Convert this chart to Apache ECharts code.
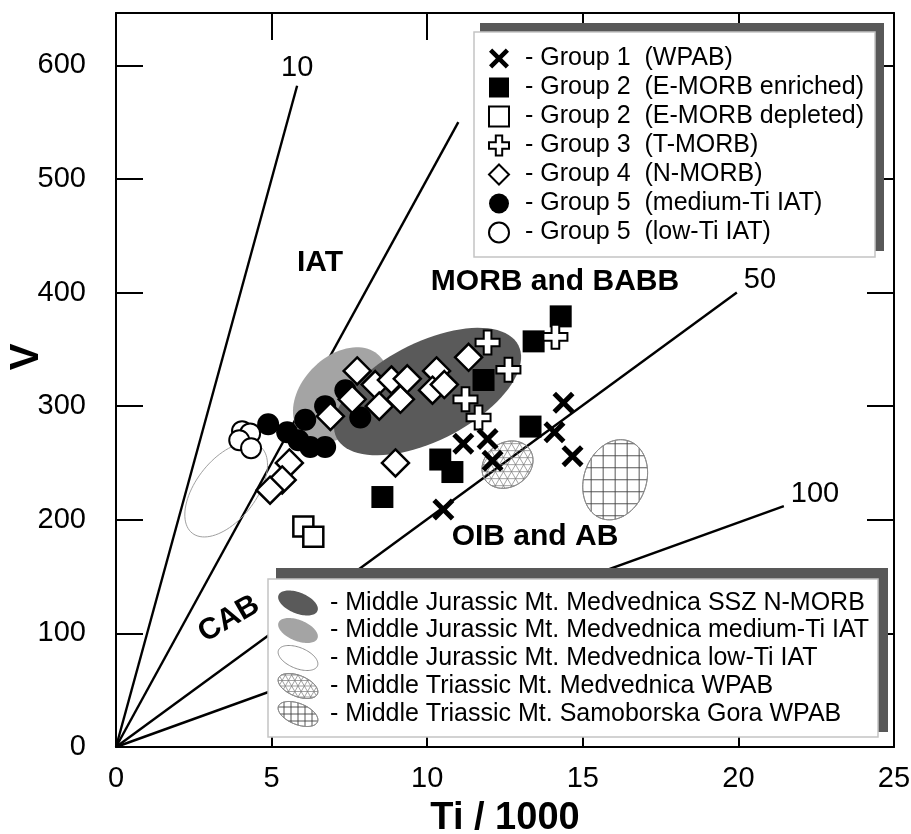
<!DOCTYPE html>
<html><head><meta charset="utf-8">
<script src="https://cdn.jsdelivr.net/npm/echarts@6/dist/echarts.min.js"></script>
<style>html,body{margin:0;padding:0;background:#fff}#c{width:911px;height:834px}</style>
</head><body><div id="c"></div>
<script>
const FONT = '"Liberation Sans", Arial, Helvetica, sans-serif';

// ---------- data (Ti/1000, V) ----------
const group1WPAB = [[11.16,267],[11.94,271],[12.10,252],[10.52,209],[14.38,303],[14.09,277],[14.67,256]];
const group2Enriched = [[14.29,379],[13.42,357],[11.81,323],[13.32,282],[10.42,253],[10.81,242],[8.56,220]];
const group2Depleted = [[6.02,194],[6.34,185]];
const group3TMORB = [[14.12,361],[11.94,356],[12.61,332],[11.23,306],[11.65,290]];
const group4NMORB = [[7.75,331],[7.59,306],[6.89,291],[5.57,250],[5.34,235],[4.95,226],[8.33,319],[8.46,300],
  [8.85,323],[9.14,306],[9.36,324],[10.30,331],[10.17,314],[10.55,319],[11.33,343],[8.98,250]];
const group5MediumTi = [[4.89,284],[5.50,277],[6.08,288],[5.86,270],[6.24,264],[6.72,264],[6.72,300],[7.37,314],[7.85,290]];
const group5LowTi = [[4.05,278],[4.31,276],[3.96,270],[4.34,263]];

const seriesNames = ['- Group 1  (WPAB)','- Group 2  (E-MORB enriched)','- Group 2  (E-MORB depleted)',
  '- Group 3  (T-MORB)','- Group 4  (N-MORB)','- Group 5  (medium-Ti IAT)','- Group 5  (low-Ti IAT)'];

// Ti/V ratio lines: label and end point
const ratioLabels = ['10','20','50','100'];
const ratioLineEnds = [[5.82,582],[11.0,550],[19.95,400],[21.46,212]];

// fields: ellipse centre, end of one semi-axis, end of the other semi-axis (data units)
const fieldNames = ['- Middle Jurassic Mt. Medvednica SSZ N-MORB','- Middle Jurassic Mt. Medvednica medium-Ti IAT',
  '- Middle Jurassic Mt. Medvednica low-Ti IAT','- Middle Triassic Mt. Medvednica WPAB','- Middle Triassic Mt. Samoborska Gora WPAB'];
const fieldCenters = [[10.01,312.8],[7.21,310.1],[3.54,226.4],[12.58,248.5],[16.04,235.2]];
const fieldMajorEnds = [[12.93,353.6],[8.46,344.4],[4.63,264.6],[13.29,262.1],[16.49,269.2]];
const fieldMinorEnds = [[9.29,351.3],[6.34,333.8],[2.78,242.7],[12.17,264.3],[15.10,244.6]];

const xTicks = [0,5,10,15,20,25];
const yTicks = [0,100,200,300,400,500,600];

// ---------- styles ----------
const fieldStyles = [
  {fill:'#5a5a5a', stroke:'none', lw:0},
  {fill:'#a4a4a4', stroke:'none', lw:0},
  {fill:'none', stroke:'#a0a0a0', lw:1},
  {fill:'none', stroke:'#8c8c8c', lw:1, hatch:[0, Math.PI/3, 2*Math.PI/3], hs:7, hc:'#7a7a7a', hw:0.7},
  {fill:'none', stroke:'#8c8c8c', lw:1, hatch:[0, Math.PI/2], hs:12, hc:'#444', hw:0.9}
];

function ellipsePoints(c, A, B, n){
  const pts=[];
  for(let i=0;i<n;i++){const t=2*Math.PI*i/n;
    pts.push([c[0]+A[0]*Math.cos(t)+B[0]*Math.sin(t), c[1]+A[1]*Math.cos(t)+B[1]*Math.sin(t)]);}
  return pts;
}
function hatch(c, A, B, angles, s){
  const det=A[0]*B[1]-B[0]*A[1];
  const inv=v=>[(B[1]*v[0]-B[0]*v[1])/det, (-A[1]*v[0]+A[0]*v[1])/det];
  const R=Math.hypot(A[0],A[1])+Math.hypot(B[0],B[1]);
  const segs=[];
  angles.forEach(ang=>{
    const d=[Math.cos(ang),Math.sin(ang)], nr=[-d[1],d[0]];
    const K=Math.ceil(R/s);
    for(let k=-K;k<=K;k++){
      const off=[nr[0]*k*s,nr[1]*k*s];
      const q0=inv(off), e=inv(d);
      const a=e[0]*e[0]+e[1]*e[1], b=2*(q0[0]*e[0]+q0[1]*e[1]), cc=q0[0]*q0[0]+q0[1]*q0[1]-1;
      const disc=b*b-4*a*cc; if(disc<=0) continue;
      const sq=Math.sqrt(disc), t1=(-b-sq)/(2*a), t2=(-b+sq)/(2*a);
      segs.push([c[0]+off[0]+d[0]*t1,c[1]+off[1]+d[1]*t1,c[0]+off[0]+d[0]*t2,c[1]+off[1]+d[1]*t2]);
    }
  });
  return segs;
}
function fieldElements(c, A, B, st, hs, z){
  const els=[{type:'polygon', z:z, shape:{points:ellipsePoints(c,A,B,90)},
    style:{fill:st.fill, stroke:st.stroke, lineWidth:st.lw}}];
  if(st.hatch){
    hatch(c,A,B,st.hatch,hs||st.hs).forEach(sg=>{
      els.push({type:'line', z:z, shape:{x1:sg[0],y1:sg[1],x2:sg[2],y2:sg[3]}, style:{stroke:st.hc, lineWidth:st.hw}});
    });
    els.push({type:'polygon', z:z, shape:{points:ellipsePoints(c,A,B,90)}, style:{fill:'none', stroke:st.stroke, lineWidth:st.lw}});
  }
  return els;
}

// ---------- series ----------
const series = [];
const lineLabelOffsets = {'10':[-24,-18], '50':[-1,-13], '100':[-1,-12]};
ratioLabels.forEach((lab,i)=>{
  series.push({type:'line', name:'ratio'+lab, data:[[0,0], ratioLineEnds[i]], symbol:'none', z:2,
    lineStyle:{color:'#000', width:2.4}, silent:true,
    endLabel:{show: lab!=='20', formatter: lab, fontSize:29, fontFamily:FONT, color:'#000',
      offset: lineLabelOffsets[lab] || [0,0]}});
});
[2,1,0,3,4].forEach(i=>{
  series.push({type:'custom', name:fieldNames[i], z:3, silent:true,
    dimensions:['cx','cy','mx','my','nx','ny'],
    encode:{x:[0,2,4], y:[1,3,5]},
    data:[[fieldCenters[i][0],fieldCenters[i][1],fieldMajorEnds[i][0],fieldMajorEnds[i][1],fieldMinorEnds[i][0],fieldMinorEnds[i][1]]],
    renderItem:(params, api)=>{
      const c=api.coord([api.value(0),api.value(1)]);
      const m=api.coord([api.value(2),api.value(3)]);
      const n=api.coord([api.value(4),api.value(5)]);
      const A=[m[0]-c[0],m[1]-c[1]], B=[n[0]-c[0],n[1]-c[1]];
      return {type:'group', children: fieldElements(c,A,B,fieldStyles[i])};
    }});
});
const xPath='path://M0,1.6L1.6,0L5,3.4L8.4,0L10,1.6L6.6,5L10,8.4L8.4,10L5,6.6L1.6,10L0,8.4L3.4,5Z';
const plusPath='path://M3.4,0L6.6,0L6.6,3.4L10,3.4L10,6.6L6.6,6.6L6.6,10L3.4,10L3.4,6.6L0,6.6L0,3.4L3.4,3.4Z';
const scatterDefs = [
  {name:seriesNames[6], data:group5LowTi, symbol:'circle', size:20, style:{color:'#fff', borderColor:'#000', borderWidth:2}},
  {name:seriesNames[5], data:group5MediumTi, symbol:'circle', size:22, style:{color:'#000'}},
  {name:seriesNames[4], data:group4NMORB, symbol:'diamond', size:27, style:{color:'#fff', borderColor:'#000', borderWidth:2.5}},
  {name:seriesNames[2], data:group2Depleted, symbol:'rect', size:20, style:{color:'#fff', borderColor:'#000', borderWidth:2.5}},
  {name:seriesNames[1], data:group2Enriched, symbol:'rect', size:22, style:{color:'#000'}},
  {name:seriesNames[3], data:group3TMORB, symbol:plusPath, size:24, style:{color:'#fff', borderColor:'#000', borderWidth:2}},
  {name:seriesNames[0], data:group1WPAB, symbol:xPath, size:22, style:{color:'#000'}}
];
scatterDefs.forEach(d=>{
  series.push({type:'scatter', name:d.name, data:d.data, symbol:d.symbol, symbolSize:d.size, z:4,
    itemStyle:Object.assign({opacity:1}, d.style), emphasis:{disabled:true}, silent:true});
});

// ---------- graphic (boxes, texts, field legend) ----------
const graphics = [];
graphics.push({type:'rect', z:10, shape:{x:480,y:23,width:404,height:228}, style:{fill:'#585858'}});
graphics.push({type:'rect', z:11, shape:{x:474,y:32,width:401,height:225}, style:{fill:'#fff', stroke:'#c4c4c4', lineWidth:1.5}});
graphics.push({type:'rect', z:10, shape:{x:276,y:568,width:612,height:164}, style:{fill:'#585858'}});
graphics.push({type:'rect', z:11, shape:{x:268,y:579,width:610,height:158}, style:{fill:'#fff', stroke:'#c4c4c4', lineWidth:1.5}});
const leg2Rows=[603,630.5,658,686,714];
const tilt=22*Math.PI/180;
const iconA=[21*Math.cos(tilt), 21*Math.sin(tilt)], iconB=[-10.5*Math.sin(tilt), 10.5*Math.cos(tilt)];
const iconHatchSpacing=[0,0,0,5.5,7];
fieldNames.forEach((nm,i)=>{
  const st = Object.assign({}, fieldStyles[i]);
  if(i===2){ st.stroke='#909090'; }
  fieldElements([298,leg2Rows[i]], iconA, iconB, st, iconHatchSpacing[i], 12).forEach(e=>graphics.push(e));
  graphics.push({type:'text', z:12, x:330, y:leg2Rows[i], style:{text:nm, fontSize:25, fontFamily:FONT, fill:'#000', align:'left', verticalAlign:'middle'}});
});
const regionText=(t,x,y,rot)=>({type:'text', z:5, x:x, y:y, rotation:rot||0,
  style:{text:t, fontSize:30, fontWeight:'bold', fontFamily:FONT, fill:'#000', align:'center', verticalAlign:'middle'}});
graphics.push(regionText('IAT',320,263));
graphics.push(regionText('MORB and BABB',555,282));
graphics.push(regionText('OIB and AB',535,537));
graphics.push(regionText('CAB',229,619,30*Math.PI/180));
graphics.push({type:'text', z:5, x:27, y:357, rotation:Math.PI/2,
  style:{text:'V', fontSize:40, fontWeight:'bold', fontFamily:FONT, fill:'#000', align:'center', verticalAlign:'middle'}});

const axisCommon = {
  type:'value', axisLine:{show:true, onZero:false, lineStyle:{color:'#000', width:2}},
  axisTick:{show:true, inside:true, length:27, lineStyle:{color:'#000', width:2}},
  splitLine:{show:false}
};

const option = {
  animation:false,
  backgroundColor:'#fff',
  grid:{left:116, right:17, top:13, bottom:87, containLabel:false, outerBoundsMode:'none'},
  xAxis:[
    Object.assign({}, axisCommon, {position:'bottom', min:0, max:25, interval:5,
      axisLabel:{fontSize:29, fontFamily:FONT, color:'#000', margin:17},
      name:'Ti / 1000', nameLocation:'middle', nameGap:53,
      nameTextStyle:{fontSize:38, fontWeight:'bold', fontFamily:FONT, color:'#000'}}),
    Object.assign({}, axisCommon, {position:'top', min:0, max:25, interval:5, axisLabel:{show:false}})
  ],
  yAxis:[
    Object.assign({}, axisCommon, {position:'left', min:0, max:646, interval:100,
      axisLabel:{fontSize:29, fontFamily:FONT, color:'#000', margin:30, showMaxLabel:false,
        formatter:v=> (yTicks.indexOf(v)>=0 ? String(v) : '')}}),
    Object.assign({}, axisCommon, {position:'right', min:0, max:646, interval:100, axisLabel:{show:false}})
  ],
  legend:{show:true, orient:'vertical', left:488, top:46, itemWidth:20, itemHeight:20, itemGap:4, padding:0,
    selectedMode:false, z:20, data:seriesNames,
    textStyle:{fontSize:25, fontFamily:FONT, color:'#000', lineHeight:25, padding:[0,0,0,11]}},
  graphic:{elements:graphics},
  series:series
};
const chart = echarts.init(document.getElementById('c'), null, {renderer:'canvas'});
chart.setOption(option);
</script></body></html>
